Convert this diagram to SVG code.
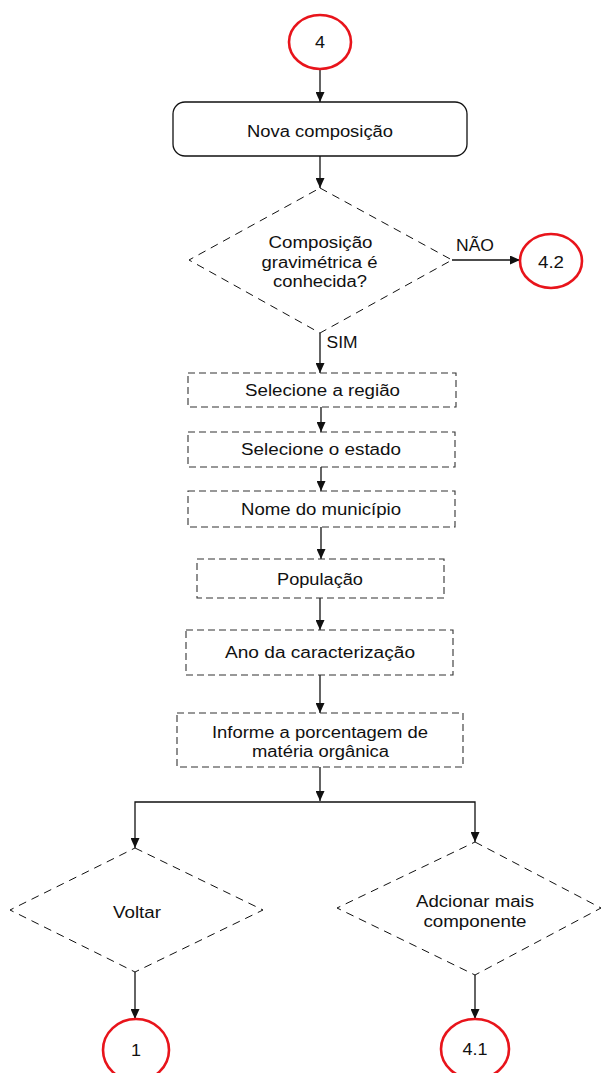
<svg xmlns="http://www.w3.org/2000/svg" width="601" height="1073" viewBox="0 0 601 1073">
<style>
  text { font-family: "Liberation Sans", Arial, sans-serif; font-size: 16px; fill: #111; text-anchor: middle; }
  .conn { stroke: #111; stroke-width: 1.3; fill: none; }
  .term { fill: #fff; stroke: #e8141b; stroke-width: 2.6; }
  .proc { fill: #fff; stroke: #111; stroke-width: 1.3; }
  .dbox { fill: #fff; stroke: #333; stroke-width: 1.1; stroke-dasharray: 7 4; }
  .dec { fill: #fff; stroke: #111; stroke-width: 1; stroke-dasharray: 8 6; }
</style>
<defs>
  <marker id="arr" markerUnits="userSpaceOnUse" markerWidth="10" markerHeight="9" refX="10" refY="4.5" orient="auto">
    <path d="M0,0 L10,4.5 L0,9 Z" fill="#111"/>
  </marker>
</defs>
<rect width="601" height="1073" fill="#fff"/>

<g id="connectors">
  <path class="conn" d="M320,69 V102" marker-end="url(#arr)"/>
  <path class="conn" d="M320,156 V188" marker-end="url(#arr)"/>
  <path class="conn" d="M452,260 H520" marker-end="url(#arr)"/>
  <path class="conn" d="M320,333 V373" marker-end="url(#arr)"/>
  <path class="conn" d="M321,407 V432" marker-end="url(#arr)"/>
  <path class="conn" d="M321,467 V491" marker-end="url(#arr)"/>
  <path class="conn" d="M321,527 V559" marker-end="url(#arr)"/>
  <path class="conn" d="M320,598 V630" marker-end="url(#arr)"/>
  <path class="conn" d="M320,675 V713" marker-end="url(#arr)"/>
  <path class="conn" d="M320,767 V801" marker-end="url(#arr)"/>
  <path class="conn" d="M320,802 H135 V848" marker-end="url(#arr)"/>
  <path class="conn" d="M320,802 H475 V842" marker-end="url(#arr)"/>
  <path class="conn" d="M135,972 V1019" marker-end="url(#arr)"/>
  <path class="conn" d="M475,975 V1019" marker-end="url(#arr)"/>
  <text x="475" y="251" textLength="38" lengthAdjust="spacingAndGlyphs">NÃO</text>
  <text x="342" y="348" textLength="31" lengthAdjust="spacingAndGlyphs">SIM</text>
</g>

<g id="n4">
  <ellipse class="term" cx="320" cy="42" rx="31" ry="27"/>
  <text x="320" y="48" textLength="10" lengthAdjust="spacingAndGlyphs">4</text>
</g>

<g id="nova">
  <rect class="proc" x="173" y="102" width="294" height="54" rx="12"/>
  <text x="320" y="137" textLength="146" lengthAdjust="spacingAndGlyphs">Nova composição</text>
</g>

<g id="dec1">
  <polygon class="dec" points="320,188 452,260 320,333 189,260"/>
  <text x="320.5" y="248" textLength="104" lengthAdjust="spacingAndGlyphs">Composição</text>
  <text x="319.5" y="268" textLength="116" lengthAdjust="spacingAndGlyphs">gravimétrica é</text>
  <text x="320" y="287" textLength="94" lengthAdjust="spacingAndGlyphs">conhecida?</text>
</g>

<g id="n42">
  <ellipse class="term" cx="551" cy="261" rx="31" ry="27"/>
  <text x="551" y="268" textLength="26" lengthAdjust="spacingAndGlyphs">4.2</text>
</g>

<g id="regiao">
  <rect class="dbox" x="188" y="373" width="268" height="34"/>
  <text x="322.5" y="396" textLength="155" lengthAdjust="spacingAndGlyphs">Selecione a região</text>
</g>

<g id="estado">
  <rect class="dbox" x="188" y="432" width="267" height="35"/>
  <text x="321" y="455" textLength="160" lengthAdjust="spacingAndGlyphs">Selecione o estado</text>
</g>

<g id="municipio">
  <rect class="dbox" x="188" y="491" width="267" height="36"/>
  <text x="321" y="515" textLength="160" lengthAdjust="spacingAndGlyphs">Nome do município</text>
</g>

<g id="populacao">
  <rect class="dbox" x="197" y="559" width="247" height="39"/>
  <text x="320" y="585" textLength="86" lengthAdjust="spacingAndGlyphs">População</text>
</g>

<g id="ano">
  <rect class="dbox" x="186" y="630" width="267" height="45"/>
  <text x="320" y="658" textLength="190" lengthAdjust="spacingAndGlyphs">Ano da caracterização</text>
</g>

<g id="materia">
  <rect class="dbox" x="177" y="713" width="286" height="54"/>
  <text x="320" y="738" textLength="216" lengthAdjust="spacingAndGlyphs">Informe a porcentagem de</text>
  <text x="320.5" y="757" textLength="137" lengthAdjust="spacingAndGlyphs">matéria orgânica</text>
</g>

<g id="voltar">
  <polygon class="dec" points="135,848 263,910 135,972 10,910"/>
  <text x="137" y="918" textLength="48" lengthAdjust="spacingAndGlyphs">Voltar</text>
</g>

<g id="adcionar">
  <polygon class="dec" points="475,842 601,908 475,975 337,908"/>
  <text x="475" y="907" textLength="118" lengthAdjust="spacingAndGlyphs">Adcionar mais</text>
  <text x="475" y="927" textLength="103" lengthAdjust="spacingAndGlyphs">componente</text>
</g>

<g id="n1">
  <ellipse class="term" cx="136" cy="1050" rx="33" ry="31"/>
  <text x="136" y="1056" textLength="10" lengthAdjust="spacingAndGlyphs">1</text>
</g>

<g id="n41">
  <ellipse class="term" cx="475" cy="1049" rx="34" ry="30"/>
  <text x="475" y="1055" textLength="25" lengthAdjust="spacingAndGlyphs">4.1</text>
</g>
</svg>
